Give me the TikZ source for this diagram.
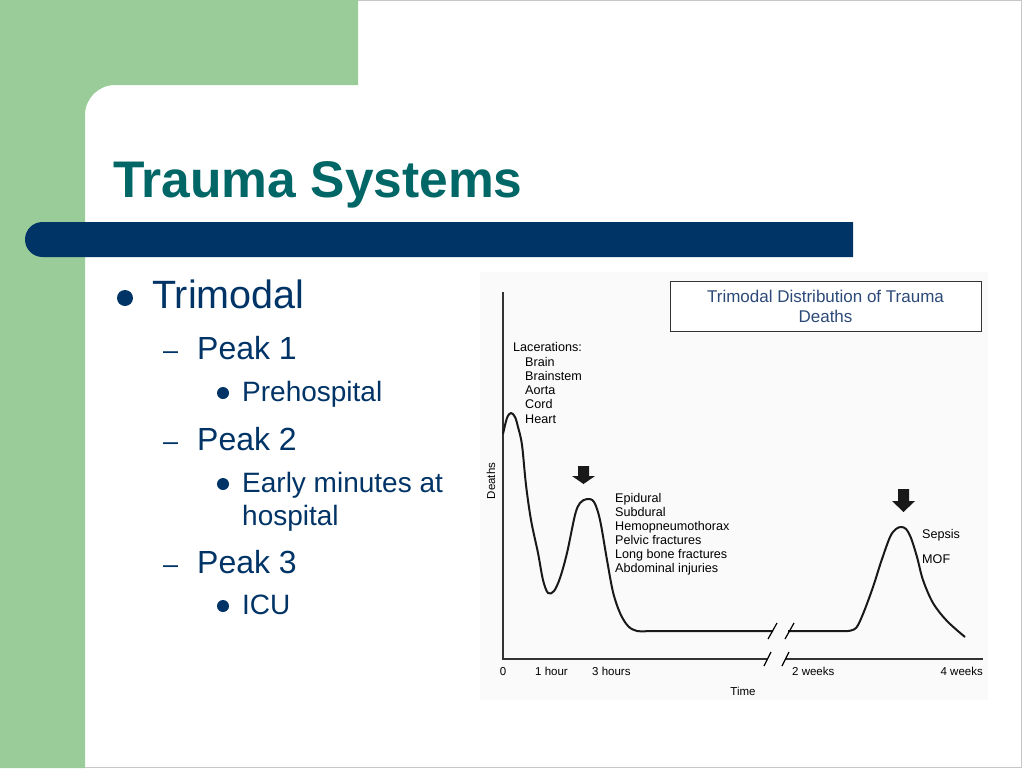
\documentclass[tikz,border=0pt]{standalone}
\usepackage{fontspec}
\setmainfont{Liberation Sans}
\usepackage{xcolor}
\usetikzlibrary{positioning,calc}
\definecolor{slidegreen}{RGB}{153,204,153}
\definecolor{barnavy}{RGB}{0,51,102}
\definecolor{titleteal}{RGB}{0,102,102}
\definecolor{boxblue}{RGB}{44,74,120}
\definecolor{chartbg}{RGB}{250,250,250}
\tikzset{%
	slidetitle/.style = {anchor=base west, inner sep=0, text=titleteal, font=\fontsize{51.5}{60}\selectfont\bfseries},
	lvlone/.style     = {anchor=base west, inner sep=0, text=barnavy, font=\fontsize{39.5}{46}\selectfont}, % Level 1
	lvltwo/.style     = {anchor=base west, inner sep=0, text=barnavy, font=\fontsize{32}{38}\selectfont}, % Level 2
	lvlthree/.style   = {anchor=base west, inner sep=0, text=barnavy, font=\fontsize{28}{33}\selectfont}, % Level 3
	dashmark/.style   = {anchor=base west, inner sep=0, text=barnavy, font=\fontsize{27}{30}\selectfont},
	bigdot/.style     = {circle, fill=barnavy, inner sep=0, minimum size=16pt},
	smalldot/.style   = {circle, fill=barnavy, inner sep=0, minimum size=12pt},
}
\tikzset{%
	charttitle/.style = {draw=black!80, line width=1pt, fill=white, minimum width=311pt, minimum height=50pt, inner sep=0, align=center, text=boxblue, font=\fontsize{17}{20}\selectfont},
	chartlabel/.style = {anchor=base west, inner sep=0, text=black, font=\fontsize{12.6}{14}\selectfont},
	ticklabel/.style  = {anchor=base, inner sep=0, text=black, font=\fontsize{11.5}{13}\selectfont},
	axisline/.style   = {line width=1.4pt, draw=black!80},
	curveline/.style  = {line width=2pt, draw=black!90, line join=round},
	blockarrow/.style = {fill=black!90},
}
\begin{document}
\begin{tikzpicture}[x=1pt,y=-1pt]
	\useasboundingbox (0,0) rectangle (1024,768);
	\fill[white] (0,0) rectangle (1024,768);
	% green frame with the rounded inner corner
	\fill[slidegreen] (0,0) -- (358,0) -- (358,85) -- (115,85) arc[start angle=-90, end angle=-180, radius=30] -- (85,768) -- (0,768) -- cycle;
	% title bar
	\fill[barnavy] (853,222) -- (42.5,222) arc[start angle=-90, end angle=-270, radius=17.5] -- (853,257) -- cycle;
	\node[slidetitle] (title) at (113,197) {Trauma Systems};
	
	% bullet list
	\node[bigdot] (dotA) at (125,298) {};
	\node[lvlone] (trimodal) at (152,308) {Trimodal};
	\node[dashmark] (dashA) at (163,359) {–};
	\node[lvltwo] (peakA) at (197,359) {Peak 1};
	\node[smalldot] (dotB) at (223,393) {};
	\node[lvlthree] (prehosp) at (242,401) {Prehospital};
	\node[dashmark] (dashB) at (163,450) {–};
	\node[lvltwo] (peakB) at (197,450) {Peak 2};
	\node[smalldot] (dotC) at (223,484) {};
	\node[lvlthree] (early) at (242,492) {Early minutes at};
	\node[lvlthree] (hosp) at (242,525) {hospital};
	\node[dashmark] (dashC) at (163,573) {–};
	\node[lvltwo] (peakC) at (197,573) {Peak 3};
	\node[smalldot] (dotD) at (223,606) {};
	\node[lvlthree] (icu) at (242,614) {ICU};
	
	% chart
	\fill[chartbg] (480,272) rectangle (988,700);
	\node[charttitle] (ctitle) at (825.5,306) {Trimodal Distribution of Trauma\\Deaths};
	\draw[axisline] (503,292) -- (503,659) -- (768,659);
	\draw[axisline] (786,659) -- (983,659);
	\draw[line width=1.2pt] (764,666) -- (771,652);
	\draw[line width=1.2pt] (782,666) -- (789,652);
	\draw[curveline] plot[smooth, tension=0.55] coordinates {(503,434) (507,418) (511,413) (515,417) (518,427) (522,445) (526,485) (531,520) (538,553) (543,580) (548,593) (554,591) (560,578) (567,553) (575,515) (580,503) (587,499) (594,502) (600,520) (607,560) (613,592) (620,613) (628,626) (637,631) (650,631)} -- (773,631);
	\draw[curveline] (788,631) -- plot[smooth, tension=0.55] coordinates {(848,631) (856,628) (863,614) (873,587) (881,562) (890,537) (896,529) (901,527) (906,529) (911,538) (917,557) (923,580) (933,603) (947,621) (965,637)};
	\draw[line width=1.2pt] (768,639) -- (777,623);
	\draw[line width=1.2pt] (785,639) -- (794,623);
	\fill[blockarrow] (578,466) -- (589,466) -- (589,476) -- (595,476) -- (583.5,484) -- (572,476) -- (578,476) -- cycle;
	\fill[blockarrow] (898,489) -- (909,489) -- (909,501) -- (915,501) -- (903.5,512) -- (892,501) -- (898,501) -- cycle;
	
	% labels
	\node[chartlabel] (lacer) at (513,351) {Lacerations:};
	\foreach \lbl [count=\i from 0] in {Brain,Brainstem,Aorta,Cord,Heart}
		\node[chartlabel] (lac\i) at (525,366+14.25*\i) {\lbl};
	\foreach \lbl [count=\i from 0] in {Epidural,Subdural,Hemopneumothorax,Pelvic fractures,Long bone fractures,Abdominal injuries}
		\node[chartlabel] (inj\i) at (615,502+14*\i) {\lbl};
	\node[chartlabel] (sepsis) at (922,538) {Sepsis};
	\node[chartlabel] (mof) at (922,563) {MOF};
	\node[ticklabel, rotate=90, anchor=center] (ylab) at (491,481) {Deaths};
	\node[ticklabel] (tzero) at (503,675) {0};
	\node[ticklabel, anchor=base west] (tone) at (535,675) {1 hour};
	\node[ticklabel, anchor=base west] (tthree) at (592,675) {3 hours};
	\node[ticklabel, anchor=base west] (ttwo) at (792,675) {2 weeks};
	\node[ticklabel, anchor=base east] (tfour) at (983,675) {4 weeks};
	\node[ticklabel] (xlab) at (743,695) {Time};
	
	% slide edge
	\draw[black!22, line width=1pt] (358,0.5) -- (1021.5,0.5) -- (1021.5,767.5) -- (85,767.5);
\end{tikzpicture}
\end{document}
